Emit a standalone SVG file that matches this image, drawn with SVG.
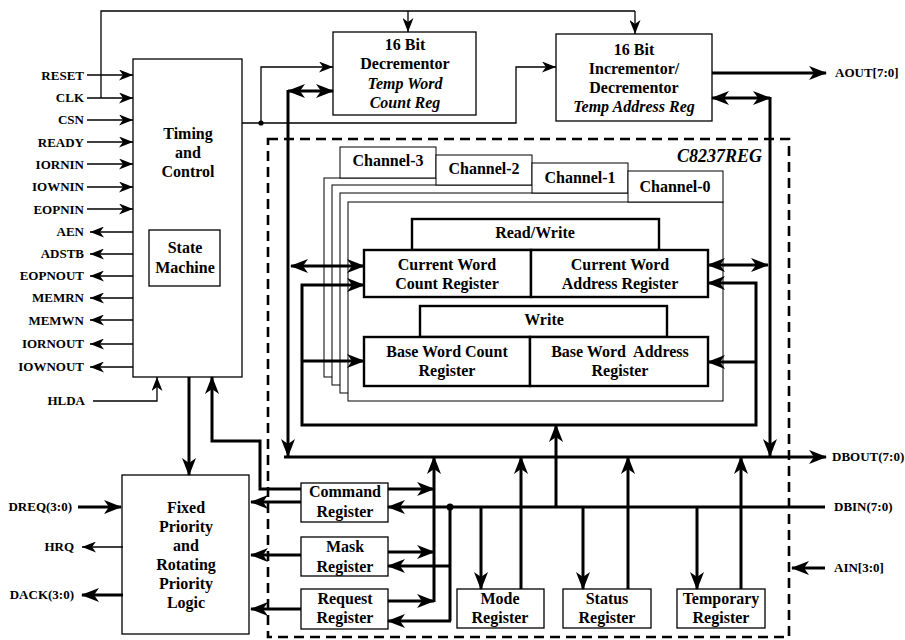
<svg xmlns="http://www.w3.org/2000/svg" width="905" height="640" viewBox="0 0 905 640">
<defs>
<style>
text{font-family:"Liberation Serif","Times New Roman",serif;font-weight:bold;fill:#000}
.sig{font-size:13px;text-anchor:end}
.sigr{font-size:13px;text-anchor:start}
.bx{font-size:16px;text-anchor:middle}
.it{font-style:italic}
.box{fill:#fff;stroke:#000;stroke-width:1.3}
.tb{fill:#fff;stroke:#000;stroke-width:1}
.hb{fill:#fff;stroke:#000;stroke-width:2.4}
.t{fill:none;stroke:#000;stroke-width:1.3}
.k{fill:none;stroke:#000;stroke-width:3}
.ta{marker-end:url(#a)}
.ka{marker-end:url(#A)}
.kd{marker-end:url(#A);marker-start:url(#A)}
</style>
<marker id="a" markerUnits="userSpaceOnUse" markerWidth="14" markerHeight="11" refX="14" refY="5.5" orient="auto-start-reverse"><path d="M0,0 L14,5.5 L0,11 L4,5.5 z" fill="#000"/></marker>
<marker id="A" markerUnits="userSpaceOnUse" markerWidth="18" markerHeight="14" refX="17" refY="7" orient="auto-start-reverse"><path d="M0,0 L18,7 L0,14 L5,7 z" fill="#000"/></marker>
</defs>
<rect width="905" height="640" fill="#fff"/>

<g id="timing-control">
<rect class="box" x="133" y="59" width="109" height="318"/>
<text class="bx" x="188" y="139">Timing</text>
<text class="bx" x="188" y="158">and</text>
<text class="bx" x="188" y="177">Control</text>
</g>
<g id="state-machine">
<rect class="box" x="149" y="230" width="71" height="56"/>
<text class="bx" x="185" y="253">State</text>
<text class="bx" x="185" y="273">Machine</text>
</g>
<g id="decrementor">
<rect class="box" x="333" y="32" width="143" height="83"/>
<text class="bx" x="405" y="50">16 Bit</text>
<text class="bx" x="405" y="69">Decrementor</text>
<text class="bx it" x="405" y="89">Temp Word</text>
<text class="bx it" x="405" y="108">Count Reg</text>
</g>
<g id="incrementor">
<rect class="box" x="556" y="34" width="156" height="87"/>
<text class="bx" x="634" y="55">16 Bit</text>
<text class="bx" x="634" y="74">Incrementor/</text>
<text class="bx" x="634" y="93">Decrementor</text>
<text class="bx it" x="634" y="112">Temp Address Reg</text>
</g>
<g id="c8237reg">
<rect x="268" y="139" width="521" height="498" fill="none" stroke="#000" stroke-width="2.6" stroke-dasharray="10,6"/>
<text class="it" x="762" y="162" font-size="18" text-anchor="end">C8237REG</text>
</g>
<g id="channel-3">
<rect class="tb" x="324" y="178" width="376" height="199"/>
<rect class="tb" x="340" y="147" width="96" height="31"/>
<text class="bx" x="388" y="166">Channel-3</text>
</g>
<g id="channel-2">
<rect class="tb" x="332" y="185" width="376" height="200"/>
<rect class="tb" x="436" y="155" width="96" height="30"/>
<text class="bx" x="484" y="174">Channel-2</text>
</g>
<g id="channel-1">
<rect class="tb" x="340" y="193" width="376" height="200"/>
<rect class="tb" x="532" y="163" width="96" height="30"/>
<text class="bx" x="580" y="183">Channel-1</text>
</g>
<g id="channel-0">
<rect class="tb" x="348" y="202" width="375" height="199"/>
<rect class="tb" x="628" y="171" width="95" height="31"/>
<text class="bx" x="675" y="192">Channel-0</text>
</g>
<g id="read-write">
<rect class="hb" x="412" y="219" width="247" height="31"/>
<text class="bx" x="535" y="238">Read/Write</text>
</g>
<g id="current-word-count">
<rect class="hb" x="364" y="250" width="167" height="47"/>
<text class="bx" x="447" y="270">Current Word</text>
<text class="bx" x="447" y="289">Count Register</text>
</g>
<g id="current-word-address">
<rect class="hb" x="531" y="250" width="177" height="47"/>
<text class="bx" x="620" y="270">Current Word</text>
<text class="bx" x="620" y="289">Address Register</text>
</g>
<g id="write">
<rect class="hb" x="420" y="306" width="247" height="31"/>
<text class="bx" x="544" y="325">Write</text>
</g>
<g id="base-word-count">
<rect class="hb" x="364" y="337" width="166" height="49"/>
<text class="bx" x="447" y="357">Base Word Count</text>
<text class="bx" x="447" y="376">Register</text>
</g>
<g id="base-word-address">
<rect class="hb" x="530" y="337" width="178" height="49"/>
<text class="bx" x="620" y="357" xml:space="preserve">Base Word  Address</text>
<text class="bx" x="620" y="376">Register</text>
</g>
<g id="fixed-priority">
<rect class="box" x="122" y="475" width="127" height="159"/>
<text class="bx" x="186" y="513">Fixed</text>
<text class="bx" x="186" y="532">Priority</text>
<text class="bx" x="186" y="551">and</text>
<text class="bx" x="186" y="570">Rotating</text>
<text class="bx" x="186" y="589">Priority</text>
<text class="bx" x="186" y="608">Logic</text>
</g>
<g id="command-register">
<rect class="box" x="301" y="483" width="87" height="39"/>
<text class="bx" x="345" y="497">Command</text>
<text class="bx" x="345" y="517">Register</text>
</g>
<g id="mask-register">
<rect class="box" x="301" y="537" width="87" height="39"/>
<text class="bx" x="345" y="552">Mask</text>
<text class="bx" x="345" y="572">Register</text>
</g>
<g id="request-register">
<rect class="box" x="301" y="589" width="87" height="40"/>
<text class="bx" x="345" y="604">Request</text>
<text class="bx" x="345" y="623">Register</text>
</g>
<g id="mode-register">
<rect class="box" x="457" y="589" width="87" height="39"/>
<text class="bx" x="500" y="604">Mode</text>
<text class="bx" x="500" y="623">Register</text>
</g>
<g id="status-register">
<rect class="box" x="563" y="589" width="88" height="39"/>
<text class="bx" x="607" y="604">Status</text>
<text class="bx" x="607" y="623">Register</text>
</g>
<g id="temporary-register">
<rect class="box" x="677" y="589" width="88" height="39"/>
<text class="bx" x="721" y="604">Temporary</text>
<text class="bx" x="721" y="623">Register</text>
</g>

<g id="labels">
<text class="sig" x="84" y="80">RESET</text>
<text class="sig" x="84" y="102">CLK</text>
<text class="sig" x="84" y="124">CSN</text>
<text class="sig" x="84" y="147">READY</text>
<text class="sig" x="84" y="169">IORNIN</text>
<text class="sig" x="84" y="191">IOWNIN</text>
<text class="sig" x="84" y="214">EOPNIN</text>
<text class="sig" x="84" y="236">AEN</text>
<text class="sig" x="84" y="258">ADSTB</text>
<text class="sig" x="84" y="280">EOPNOUT</text>
<text class="sig" x="84" y="302">MEMRN</text>
<text class="sig" x="84" y="325">MEMWN</text>
<text class="sig" x="84" y="348">IORNOUT</text>
<text class="sig" x="84" y="371">IOWNOUT</text>
<text class="sig" x="85" y="405">HLDA</text>
<text class="sig" x="72" y="511">DREQ(3:0)</text>
<text class="sig" x="74" y="551">HRQ</text>
<text class="sig" x="74" y="599">DACK(3:0)</text>
<text class="sigr" x="835" y="77">AOUT[7:0]</text>
<text class="sigr" x="832" y="461">DBOUT(7:0)</text>
<text class="sigr" x="834" y="511">DBIN(7:0)</text>
<text class="sigr" x="834" y="572">AIN[3:0]</text>
</g>

<g id="connectors">
<path class="t" d="M101,98 V11 H635"/>
<path class="t ta" d="M408,11 V32"/>
<path class="t ta" d="M635,11 V34"/>
<path class="t ta" d="M87,75 H133"/>
<path class="t ta" d="M87,98 H133"/>
<path class="t ta" d="M87,120 H133"/>
<path class="t ta" d="M87,142 H133"/>
<path class="t ta" d="M87,164 H133"/>
<path class="t ta" d="M87,187 H133"/>
<path class="t ta" d="M87,209 H133"/>
<path class="t ta" d="M133,232 H90"/>
<path class="t ta" d="M133,254 H90"/>
<path class="t ta" d="M133,276 H90"/>
<path class="t ta" d="M133,298 H90"/>
<path class="t ta" d="M133,320 H90"/>
<path class="t ta" d="M133,344 H90"/>
<path class="t ta" d="M133,367 H90"/>
<path class="t ta" d="M93,401 H157 V377"/>
<path class="t ta" d="M242,123 H516 V67 H556"/>
<path class="t ta" d="M261,123 V67 H333"/>
<circle cx="261" cy="123" r="2.6"/>
<path class="k ka" d="M712,73 H826"/>
<path class="k kd" d="M288,91 H333"/>
<path class="k ka" d="M288,90 V456"/>
<path class="k kd" d="M712,98 H770"/>
<path class="k ka" d="M770,97 V456"/>
<path class="k kd" d="M291,266 H364"/>
<path class="k kd" d="M708,265 H768"/>
<path class="k kd" d="M364,285 H302 V425 H756 V283 H708"/>
<path class="k ka" d="M302,361 H364"/>
<path class="k ka" d="M756,362 H708"/>
<path class="k ka" d="M556,507 V425"/>
<path class="k ka" d="M284,457 H826"/>
<path class="k ka" d="M189,377 V475"/>
<path class="k ka" d="M301,489 H260 V441 H212 V377"/>
<path class="k ka" d="M301,502 H251"/>
<path class="k ka" d="M301,555 H251"/>
<path class="k ka" d="M301,609 H251"/>
<path class="k ka" d="M388,489 H434"/>
<path class="k ka" d="M388,552 H434"/>
<path class="k ka" d="M388,601 H434"/>
<path class="k ka" d="M434,602 V457"/>
<path class="k ka" d="M825,507 H388"/>
<path class="k" d="M450,507 V621"/>
<path class="k ka" d="M450,566 H388"/>
<path class="k ka" d="M451,621 H388"/>
<circle cx="450" cy="507" r="3.5"/>
<path class="k ka" d="M481,507 V589"/>
<path class="k ka" d="M583,507 V589"/>
<path class="k ka" d="M697,507 V589"/>
<path class="k ka" d="M521,589 V457"/>
<path class="k ka" d="M628,589 V457"/>
<path class="k ka" d="M741,589 V457"/>
<path class="t ta" d="M123,547 H82"/>
<path class="k ka" d="M123,595 H82"/>
<path class="k ka" d="M78,507 H121"/>
<path class="k ka" d="M825,568 H792"/>
</g>
</svg>
